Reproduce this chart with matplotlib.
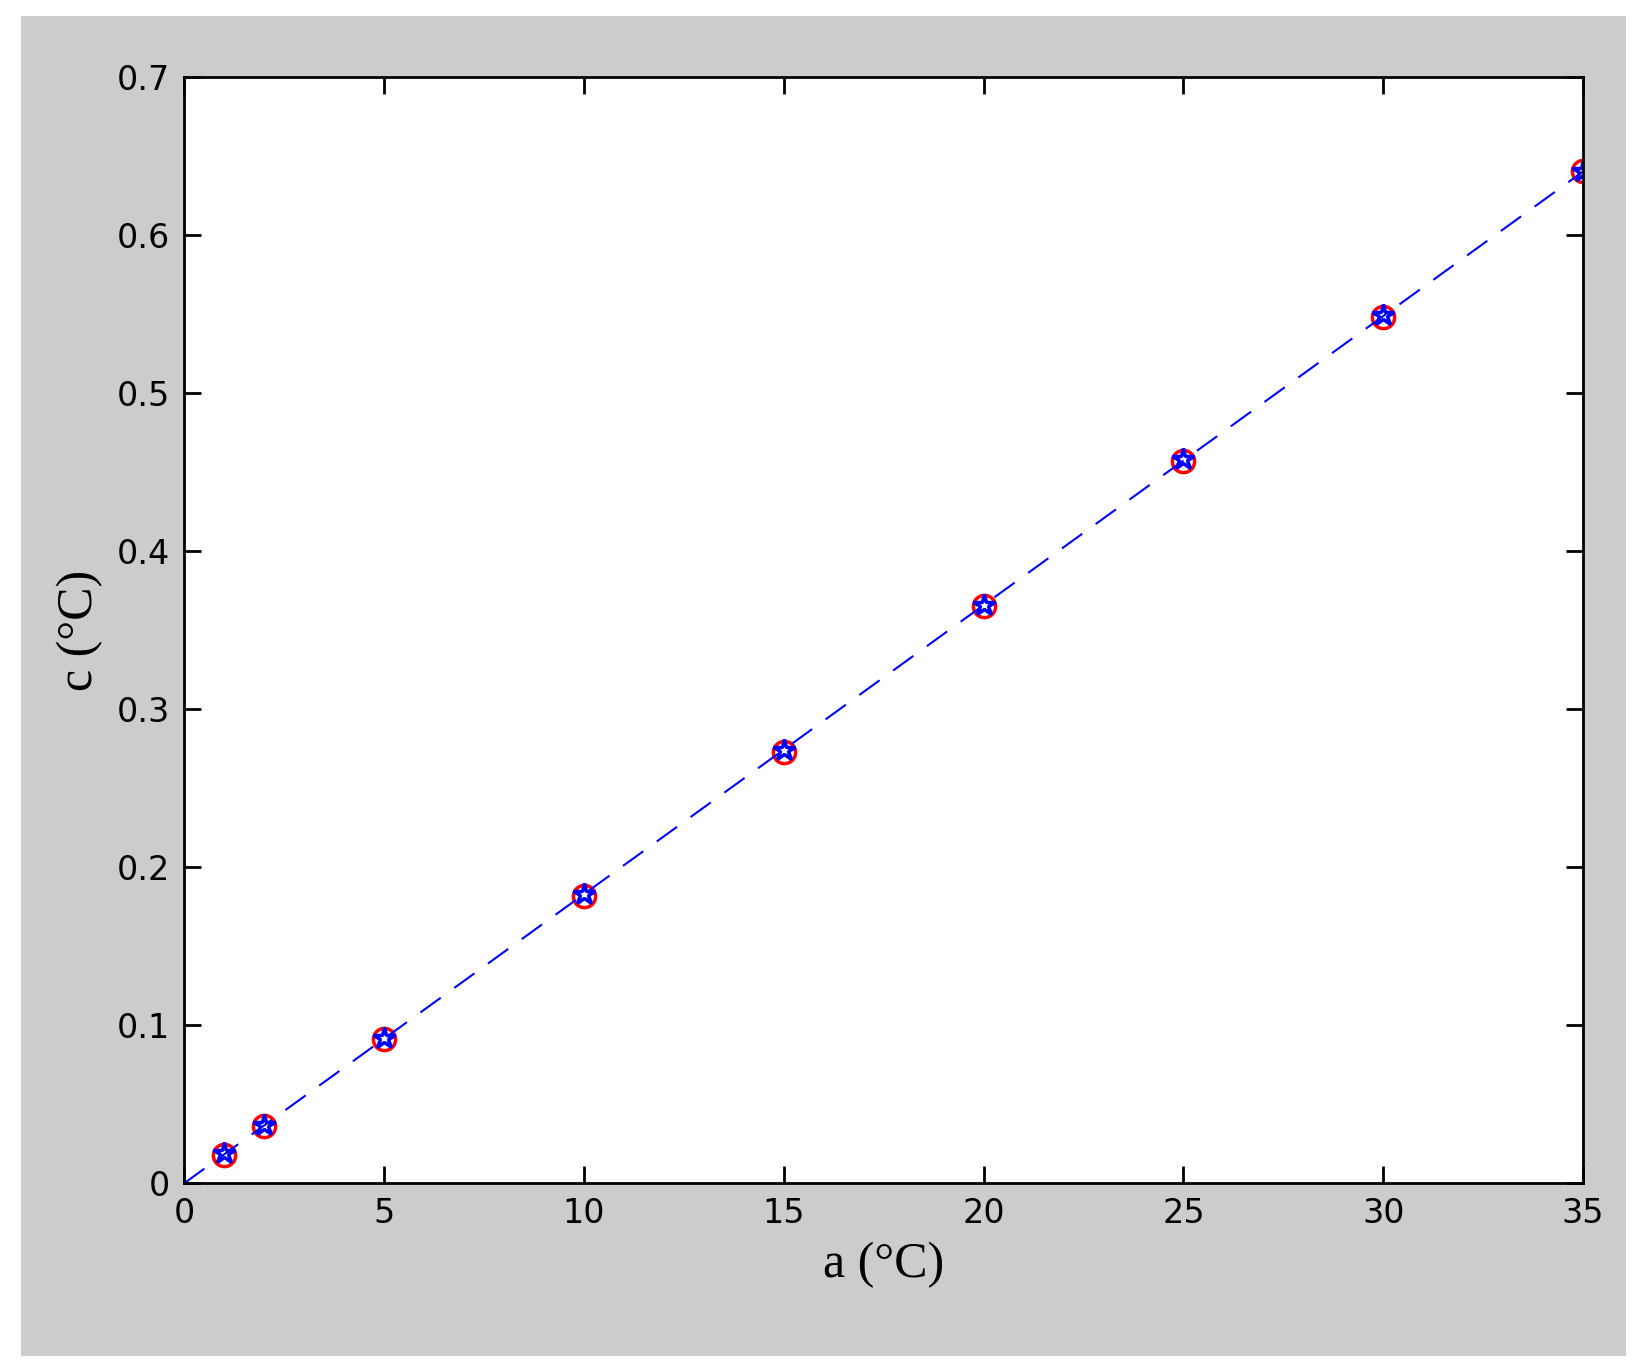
import matplotlib.pyplot as plt
from matplotlib.patches import Rectangle

a = [1, 2, 5, 10, 15, 20, 25, 30, 35]
c_circle = [0.018, 0.036, 0.091, 0.182, 0.273, 0.365, 0.457, 0.548, 0.640]
c_star = [0.019, 0.037, 0.092, 0.183, 0.274, 0.366, 0.458, 0.549, 0.640]
fit_x = [0, 35]
fit_y = [0.0, 0.640]

fig = plt.figure(figsize=(16.44, 13.68), dpi=100)
fig.patches.append(Rectangle((0.013, 0.009), 0.976, 0.979, transform=fig.transFigure,
                             facecolor='#cccccc', edgecolor='none', zorder=-10))
ax = fig.add_axes([0.112, 0.135, 0.851, 0.809])

ax.plot(a, c_circle, 'o', ms=16, mfc='none', mec='red', mew=2.5)
ax.plot(a, c_star, '*', ms=16, mfc='none', mec='blue', mew=2.5)
ax.plot(fit_x, fit_y, color='blue', lw=1.5, dashes=(12, 8))

ax.set_xlim(0, 35)
ax.set_ylim(0, 0.7)
ax.set_xticks(range(0, 36, 5))
ax.set_yticks([0, 0.1, 0.2, 0.3, 0.4, 0.5, 0.6, 0.7])
ax.set_yticklabels(['0', '0.1', '0.2', '0.3', '0.4', '0.5', '0.6', '0.7'])
ax.tick_params(direction='in', length=12, width=2, labelsize=24, top=True, right=True, pad=10)
for s in ax.spines.values():
    s.set_linewidth(2)
ax.set_xlabel('a (°C)', fontsize=36, family='Liberation Serif', labelpad=8)
ax.set_ylabel('c (°C)', fontsize=36, family='Liberation Serif', labelpad=10)

fig.savefig('out.png', dpi=100)
